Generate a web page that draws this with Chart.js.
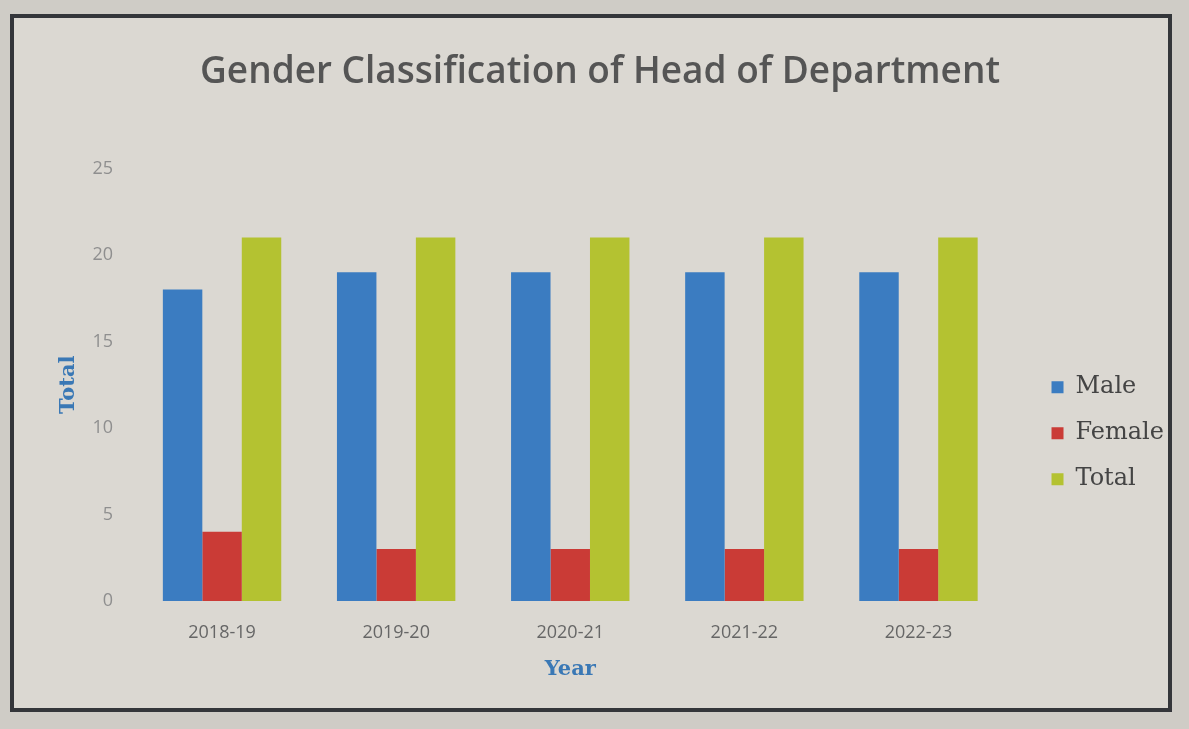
<!DOCTYPE html>
<html>
<head>
<meta charset="utf-8">
<script src="https://cdn.jsdelivr.net/npm/chart.js@4.4.0/dist/chart.umd.min.js"></script>
<style>
  html, body { margin: 0; padding: 0; background: #cfccc6; }
  #wrap { position: absolute; left: 10px; top: 14px; width: 1162px; height: 698px;
          border: 4px solid #34363a; background: #dbd8d2; box-sizing: border-box; }
  canvas { display: block; }
</style>
</head>
<body>
<div id="wrap"><canvas id="c"></canvas></div>
<script>
const categories = ['2018-19', '2019-20', '2020-21', '2021-22', '2022-23'];
const maleValues = [18, 19, 19, 19, 19];
const femaleValues = [4, 3, 3, 3, 3];
const totalValues = [21, 21, 21, 21, 21];
const yTicks = [0, 5, 10, 15, 20, 25];

// leave a gap between the plot area and the legend on the right
const plotGap = {
  id: 'plotGap',
  afterLayout(chart) {
    const shift = 24;
    const xs = chart.scales.x;
    xs.right -= shift;
    xs.width -= shift;
    xs.configure();
    chart.chartArea.right -= shift;
    chart.chartArea.width -= shift;
  }
};

const ctx = document.getElementById('c');
new Chart(ctx, {
  type: 'bar',
  data: {
    labels: categories,
    datasets: [
      { label: 'Male', data: maleValues, backgroundColor: '#3b7cc1' },
      { label: 'Female', data: femaleValues, backgroundColor: '#ca3b36' },
      { label: 'Total', data: totalValues, backgroundColor: '#b4c231' }
    ]
  },
  plugins: [plotGap],
  options: {
    responsive: true,
    maintainAspectRatio: false,
    animation: false,
    datasets: { bar: { categoryPercentage: 0.68, barPercentage: 1.0 } },
    layout: { padding: { left: 12, right: -6, top: 0, bottom: 12 } },
    plugins: {
      title: {
        display: true,
        text: 'Gender Classification of Head of Department',
        color: '#555555',
        font: { family: 'Open Sans', size: 37, weight: '600' },
        padding: { top: 32, bottom: 74 }
      },
      legend: {
        position: 'right',
        title: { display: true, text: '', padding: { top: 138, bottom: 0 } },
        labels: {
          color: '#444444',
          font: { family: 'DejaVu Serif', size: 24 },
          boxWidth: 12, boxHeight: 12,
          padding: 22
        }
      },
      tooltip: { enabled: false }
    },
    scales: {
      x: {
        afterFit: s => { s.height = 95; },
        grid: { display: false },
        border: { display: false },
        ticks: { color: '#666', padding: 13, font: { family: 'Open Sans', size: 18 } },
        title: { display: true, text: 'Year', color: '#3a78b5', padding: { top: 0, bottom: 14 },
                 font: { family: 'DejaVu Serif', size: 21, weight: 'bold' } }
      },
      y: {
        min: 0, max: 25,
        afterBuildTicks: axis => { axis.ticks = yTicks.map(v => ({ value: v })); },
        afterFit: s => { s.width = 109; },
        grid: { display: false },
        border: { display: false },
        ticks: { color: '#8f8f8f', padding: 14, font: { family: 'Open Sans', size: 18 } },
        title: { display: true, text: 'Total', color: '#3a78b5', padding: { top: 30, bottom: 0 },
                 font: { family: 'DejaVu Serif', size: 21, weight: 'bold' } }
      }
    }
  }
});
</script>
</body>
</html>
